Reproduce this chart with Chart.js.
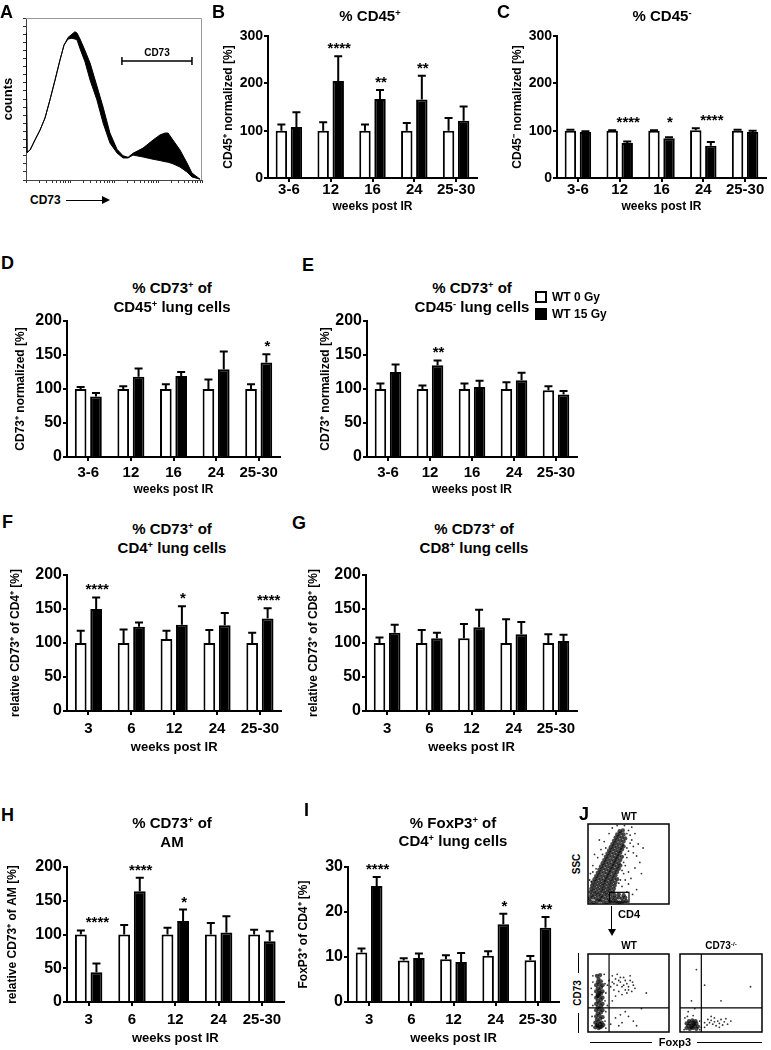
<!DOCTYPE html>
<html><head><meta charset="utf-8"><title>CD73 figure</title>
<script src="https://cdn.jsdelivr.net/npm/chart.js@4.4.1/dist/chart.umd.min.js"></script>
<style>
html,body{margin:0;padding:0;background:#fff;}
#fig{position:relative;width:771px;height:1050px;overflow:hidden;background:#fff;font-family:"Liberation Sans",Arial,Helvetica,sans-serif;font-weight:bold;color:#000;}
#fig canvas{position:absolute;}
.tx{position:absolute;white-space:nowrap;line-height:1;}
.c{transform:translate(-50%,-50%);}
.tl{transform:none;}
.rot{transform:translate(-50%,-50%) rotate(-90deg);}
sup{font-size:0.62em;line-height:0;vertical-align:0;position:relative;top:-0.55em;}
.lbox{position:absolute;width:8px;height:8px;border:2px solid #000;background:#fff;}
.hl{position:absolute;height:1px;background:#000;}
.vl{position:absolute;width:1px;background:#000;}
</style></head>
<body><div id="fig"></div>
<script>
const FONT = '"Liberation Sans", Arial, Helvetica, sans-serif';

// ---------- Panel A : histogram ----------
const histChannel = [0,0.6,2.3,5.1,8,10.8,13.6,16.5,19.3,21.6,23.9,26.1,27.8,29,30.7,33.5,36.4,40.3,43.8,47.7,51.7,55.1,58,60.8,66.5,72.2,76.1,79,80.7,83.5,87.5,91.5,94.3,98.9];
const histOpen   = [91,17,18.5,24.7,30.9,38.3,49.4,61.7,74,83.3,87,87.5,87,86.5,81,73,61.7,49.4,35.2,22.8,16.7,13.6,13.6,15.4,14.2,12.8,12,11.3,11,10,8,4.9,1.9,0.5];
const histFilled = [91,17,18.5,24.7,30.9,38.3,49.4,61.7,74,83.3,88,90,91.5,90.7,87,80,72.2,58,45,29,19,15,14,16.5,19.7,24.7,27.8,29,29,24.7,18.5,10.5,4.3,0.5];
const histLogTicks = [0,7.5,11.9,15,17.5,19.5,21.1,22.6,23.9,25,32.5,36.9,40,42.5,44.5,46.1,47.6,48.9,50,57.5,61.9,65,67.5,69.5,71.1,72.6,73.9,75,82.5,86.9,90,92.5,94.5,96.1,97.6,98.9,100];
const gateA = [54.5, 94.3, 73.5];

// ---------- Bar panels ----------
const weeksA = ['3-6','12','16','24','25-30'];
const weeksB = ['3','6','12','24','25-30'];

const bWT0 = [100,100,100,100,100], bWT0Err = [13,18,13,16,27];
const bWT15 = [108,205,167,166,121], bWT15Err = [31,52,19,50,30];
const bSig = ['','****','**','**',''];

const cWT0 = [100,100,100,101,100], cWT0Err = [2,1,1,4,2];
const cWT15 = [97,74,84,68,97], cWT15Err = [2,3,2,8,3];
const cSig = ['','****','*','****',''];

const dWT0 = [100,100,100,100,100], dWT0Err = [3,4,7,14,7];
const dWT15 = [89,118,119,129,139], dWT15Err = [5,12,6,26,12];
const dSig = ['','','','','*'];

const eWT0 = [100,100,100,100,98], eWT0Err = [8,5,8,10,6];
const eWT15 = [125,135,103,113,92], eWT15Err = [11,7,9,11,5];
const eSig = ['','**','','',''];

const fWT0 = [100,100,106,100,100], fWT0Err = [18,20,12,19,15];
const fWT15 = [150,124,127,126,136], fWT15Err = [17,6,27,18,15];
const fSig = ['****','','*','','****'];

const gWT0 = [100,100,107,100,100], gWT0Err = [8,19,21,35,13];
const gWT15 = [115,107,123,113,103], gWT15Err = [12,8,26,18,9];
const gSig = ['','','','',''];

const hWT0 = [100,100,100,100,100], hWT0Err = [6,14,10,17,7];
const hWT15 = [44,164,120,103,90], hWT15Err = [13,20,17,24,15];
const hSig = ['****','****','*','',''];

const iWT0 = [11,9.2,9.5,10.3,9.3], iWT0Err = [0.9,0.5,0.9,1.0,0.9];
const iWT15 = [25.8,9.8,8.9,17.3,16.5], iWT15Err = [2.0,1.0,2.0,2.3,2.4];
const iSig = ['****','','','*','**'];

// ---------- Panel J : dot plots (x %, y %) ----------
const jTopCore = [[3,3],[7,2],[11,3],[15,4],[19,3],[23,2],[27,3],[31,4],[35,3],[39,2],[43,3],[47,4],
 [2,7],[6,8],[10,7],[14,6],[18,8],[22,7],[26,6],[30,8],[34,7],[38,8],[42,7],[46,8],
 [4,11],[8,12],[12,11],[16,10],[20,12],[24,11],[28,12],[33,11],[38,12],[44,11],
 [3,15],[7,16],[11,15],[15,14],[19,16],[23,15],[27,16],[31,15],
 [4,19],[8,20],[12,19],[16,18],[20,20],[24,19],[28,20],[32,19],
 [5,23],[9,24],[13,23],[17,22],[21,24],[25,23],[29,24],[33,23],
 [6,27],[10,28],[14,27],[18,26],[22,28],[26,27],[30,28],[34,27],
 [8,31],[12,32],[16,31],[20,30],[24,32],[28,31],[32,32],[36,31],
 [10,35],[14,36],[18,35],[22,34],[26,36],[30,35],[34,36],
 [12,39],[16,40],[20,39],[24,38],[28,40],[32,39],[36,40],
 [14,43],[18,44],[22,43],[26,42],[30,44],[34,43],[38,44],
 [16,47],[20,48],[24,47],[28,46],[32,48],[36,47],[40,48],
 [18,51],[22,52],[26,51],[30,50],[34,52],[38,51],
 [20,55],[24,56],[28,55],[32,54],[36,56],[40,55],
 [22,59],[26,60],[30,59],[34,58],[38,60],[42,59],
 [24,63],[28,64],[32,63],[36,62],[40,64],
 [26,67],[30,68],[34,67],[38,66],[42,68],
 [28,71],[32,72],[36,71],[40,70],[44,72],
 [30,75],[34,76],[38,75],[42,74],
 [32,79],[36,80],[40,79],[44,78],
 [34,83],[38,84],[42,83],[46,82],
 [36,87],[40,88],[44,87],
 [39,91],[43,92]];
const jTopSpeck = [[50,92],[52,86],[54,80],[56,72],[50,66],[48,58],[46,48],[44,38],[40,30],[42,22],[48,15],[55,12],[60,60],[58,45],[53,32],[50,25],[62,75],[30,95],[26,88],[20,78],[16,68],[12,58],[6,48],[3,38],[2,30],[58,88],[64,52],[66,38],[60,18],[8,62],[14,80],[68,70],[45,98],[36,98],[54,96],[48,70],[46,62],[44,52],[42,42],[38,26],[10,44],[6,40],[4,28],[22,70],[18,62],[48,88],[52,76],[56,64],[50,40],[46,30]];
const jWtCore = [[9,6],[13,5],[17,7],[11,9],[15,10],[19,9],[9,12],[13,13],[17,12],[11,16],[15,17],[10,20],[14,21],[18,19],[12,24],[16,25],[10,28],[14,29],[18,28],[12,32],[16,33],[10,36],[14,37],[18,36],[12,40],[16,41],[10,44],[14,45],[18,44],[12,48],[16,49],[10,52],[14,53],[18,52],[12,56],[16,57],[10,60],[14,61],[18,60],[12,64],[16,65],[13,68],[11,72],[15,73],[12,46],[14,50],[12,8],[15,6]];
const jWtSpeck = [[28,58],[30,64],[32,54],[34,68],[36,60],[38,52],[40,64],[42,58],[44,70],[46,54],[48,62],[50,58],[52,66],[54,52],[56,60],[30,72],[36,74],[42,48],[48,50],[34,46],[40,70],[46,66],[52,72],[58,56],[32,62],[38,66],[44,60],[50,54],[26,66],[55,64],
 [34,18],[42,12],[50,20],[38,8],[56,14],[46,26],[60,8],[66,30],[72,50],[30,40],[28,10],[40,22],
 [6,72],[20,74],[6,64],[21,62],[22,50],[5,48],[21,40],[6,34],[22,26],[5,20],[21,14],[5,8],[22,5],[24,60],[4,56],[24,34]];
const jKoCore = [[8,5],[12,4],[16,5],[20,4],[10,8],[14,8],[18,8],[22,7],[8,11],[12,11],[16,12],[20,11],[11,14],[15,15],[19,14],[14,6],[17,10]];
const jKoSpeck = [[6,18],[24,14],[9,20],[16,21],[26,6],[10,26],[18,30],[5,3],[24,3],[30,12],[33,9],[36,12],[38,15],[40,10],[42,13],[44,8],[46,14],[48,11],[50,16],[52,9],[54,13],[56,17],[34,16],[42,18],[58,10],[30,6],[48,6],[14,40],[30,60],[86,58],[50,40],[20,80],[38,20],[62,14]];
const jQuad = [26, 31];
const jGate = [26.5, 50.6, 2.4, 14.6];

// ---------- helpers ----------
const fig = document.getElementById('fig');
function makeCanvas(x, y, w, h){
  const c = document.createElement('canvas');
  c.width = w; c.height = h;
  c.style.left = x + 'px'; c.style.top = y + 'px';
  c.style.width = w + 'px'; c.style.height = h + 'px';
  fig.appendChild(c); return c;
}
function put(html, x, y, size, cls){
  const d = document.createElement('div');
  d.className = 'tx ' + (cls === undefined ? 'c' : cls);
  d.innerHTML = html;
  d.style.left = x + 'px'; d.style.top = y + 'px'; d.style.fontSize = size + 'px';
  fig.appendChild(d); return d;
}
function line(cls, x, y, len){
  const d = document.createElement('div'); d.className = cls;
  d.style.left = x + 'px'; d.style.top = y + 'px';
  if (cls === 'hl') d.style.width = len + 'px'; else d.style.height = len + 'px';
  fig.appendChild(d); return d;
}

const errPlugin = {
  id: 'errbars',
  afterDatasetsDraw(chart){
    const ctx = chart.ctx, ys = chart.scales.y;
    const dsets = chart.data.datasets;
    dsets.forEach((ds, di) => {
      const meta = chart.getDatasetMeta(di);
      meta.data.forEach((el, i) => {
        const v = ds.data[i], e = ds.err[i];
        const y0 = ys.getPixelForValue(v), y1 = ys.getPixelForValue(v + e);
        ctx.save();
        ctx.strokeStyle = '#000'; ctx.lineWidth = 2;
        ctx.beginPath();
        ctx.moveTo(el.x, y0); ctx.lineTo(el.x, y1);
        ctx.moveTo(el.x - 4, y1); ctx.lineTo(el.x + 4, y1);
        ctx.stroke();
        if (ds.sig && ds.sig[i]) {
          let topY = y1;
          dsets.forEach(o => { topY = Math.min(topY, ys.getPixelForValue(o.data[i] + o.err[i])); });
          ctx.fillStyle = '#000';
          ctx.font = 'bold 15px ' + FONT;
          ctx.textAlign = 'center'; ctx.textBaseline = 'alphabetic';
          ctx.fillText(ds.sig[i], el.x + 1, topY - 3);
        }
        ctx.restore();
      });
    });
  }
};

function barPanel(p){
  const yl = 12 * 1.2;
  const xtSize = p.xtSize || 12, xlh = xtSize * 1.2;
  const left = Math.round(p.ytx - yl / 2 - 1);
  const top = p.T - 10;
  const padR = 4;
  const width = p.R + padR - left;
  const bottom = Math.round(p.xt + xlh / 2 + 1);
  const height = bottom - top;
  const cv = makeCanvas(left, top, width, height);
  const yw = p.L - left, xh = bottom - p.B;
  const xFont = 15;
  const tickPad = p.xl - p.B - 4 - xFont / 2;
  new Chart(cv, {
    type: 'bar',
    data: {
      labels: p.cats,
      datasets: [
        {label: 'WT 0 Gy', data: p.w0, err: p.w0e, backgroundColor: '#fff', borderColor: '#000', borderWidth: 2,
         categoryPercentage: 0.72, barPercentage: 0.76},
        {label: 'WT 15 Gy', data: p.w15, err: p.w15e, sig: p.sig, backgroundColor: '#000', borderColor: '#000', borderWidth: 2,
         categoryPercentage: 0.72, barPercentage: 0.76}
      ]
    },
    options: {
      responsive: false, animation: false, devicePixelRatio: 1,
      layout: {padding: {top: 10, right: padR, left: 0, bottom: 0}},
      plugins: {legend: {display: false}, tooltip: {enabled: false}, title: {display: false}},
      scales: {
        x: {
          offset: true,
          grid: {offset: false, drawOnChartArea: false, drawTicks: true, tickLength: 4, color: '#000', lineWidth: 2},
          border: {color: '#000', width: 2},
          ticks: {color: '#000', font: {family: FONT, weight: 'bold', size: xFont, lineHeight: 1}, padding: tickPad, maxRotation: 0, autoSkip: false},
          title: {display: true, text: 'weeks post IR', color: '#000', font: {family: FONT, weight: 'bold', size: xtSize, lineHeight: 1.2}, padding: {top: 0, bottom: 1}},
          afterFit: s => { s.height = xh; }
        },
        y: {
          min: 0, max: p.yMax,
          ticks: {stepSize: p.step, color: '#000', font: {family: FONT, weight: 'bold', size: p.yFont, lineHeight: 1}, padding: 1},
          grid: {drawOnChartArea: false, drawTicks: true, tickLength: 4, color: '#000', lineWidth: 2},
          border: {color: '#000', width: 2},
          title: {display: true, text: p.yTitle, color: '#000', font: {family: FONT, weight: 'bold', size: 12, lineHeight: 1.2}, padding: {top: 1, bottom: 0}},
          afterFit: s => { s.width = yw; }
        }
      }
    },
    plugins: [errPlugin]
  });
}

// ---------- Panel A ----------
const histPlugin = {
  id: 'histdeco',
  afterDraw(chart){
    const {ctx, chartArea: a, scales: {x, y}} = chart;
    ctx.save();
    ctx.strokeStyle = '#9a9a9a'; ctx.lineWidth = 1;
    ctx.beginPath(); ctx.moveTo(a.left, a.top + 0.5); ctx.lineTo(a.right - 0.5, a.top + 0.5); ctx.lineTo(a.right - 0.5, a.bottom); ctx.stroke();
    const gx0 = x.getPixelForValue(gateA[0]), gx1 = x.getPixelForValue(gateA[1]), gy = y.getPixelForValue(gateA[2]);
    ctx.strokeStyle = '#000'; ctx.lineWidth = 1.5;
    ctx.beginPath();
    ctx.moveTo(gx0, gy); ctx.lineTo(gx1, gy);
    ctx.moveTo(gx0, gy - 4); ctx.lineTo(gx0, gy + 4);
    ctx.moveTo(gx1, gy - 4); ctx.lineTo(gx1, gy + 4);
    ctx.stroke();
    ctx.fillStyle = '#000'; ctx.font = 'bold 10px ' + FONT; ctx.textAlign = 'center'; ctx.textBaseline = 'middle';
    ctx.fillText('CD73', (gx0 + gx1) / 2, gy - 7.5);
    ctx.restore();
  }
};
(function(){
  const cv = makeCanvas(0, 14, 204, 170);
  new Chart(cv, {
    type: 'line',
    data: {datasets: [
      {data: histChannel.map((c, i) => ({x: c, y: histOpen[i]})), borderColor: '#000', borderWidth: 1, pointRadius: 0, fill: false, tension: 0},
      {data: histChannel.map((c, i) => ({x: c, y: histFilled[i]})), borderColor: '#000', borderWidth: 1, pointRadius: 0, backgroundColor: '#000', fill: '-1', tension: 0}
    ]},
    options: {
      responsive: false, animation: false, devicePixelRatio: 1,
      layout: {padding: {top: 4, right: 2, left: 0, bottom: 0}},
      plugins: {legend: {display: false}, tooltip: {enabled: false}},
      scales: {
        x: {type: 'linear', min: 0, max: 100,
            ticks: {display: false},
            afterBuildTicks: s => { s.ticks = histLogTicks.map(v => ({value: v})); },
            grid: {drawOnChartArea: false, drawTicks: true, tickLength: 3, color: '#333', lineWidth: 1},
            border: {color: '#444', width: 1},
            afterFit: s => { s.height = 4; }},
        y: {type: 'linear', min: 0, max: 100,
            ticks: {display: false, stepSize: 5},
            grid: {drawOnChartArea: false, drawTicks: true, tickLength: 3, color: '#333', lineWidth: 1},
            border: {color: '#444', width: 1},
            title: {display: true, text: 'counts', color: '#000', font: {family: FONT, weight: 'bold', size: 13, lineHeight: 1.2}, padding: {top: 1, bottom: 0}},
            afterFit: s => { s.width = 26; }}
      }
    },
    plugins: [histPlugin]
  });
})();

// ---------- Bar panels ----------
barPanel({L:268,R:477,T:36,B:178,xl:190,xt:207,ytx:228,yMax:300,step:100,yFont:14,cats:weeksA,
  w0:bWT0,w0e:bWT0Err,w15:bWT15,w15e:bWT15Err,sig:bSig,yTitle:'CD45\u207A normalized [%]'});
barPanel({L:557,R:766,T:36,B:178,xl:190,xt:207,ytx:517,yMax:300,step:100,yFont:14,cats:weeksA,
  w0:cWT0,w0e:cWT0Err,w15:cWT15,w15e:cWT15Err,sig:cSig,yTitle:'CD45\u207B normalized [%]'});
barPanel({L:67,R:280,T:321,B:457,xl:473,xt:490,ytx:20,yMax:200,step:50,yFont:16,cats:weeksA,
  w0:dWT0,w0e:dWT0Err,w15:dWT15,w15e:dWT15Err,sig:dSig,yTitle:'CD73\u207A normalized [%]'});
barPanel({L:367,R:577,T:321,B:457,xl:473,xt:490,ytx:325,yMax:200,step:50,yFont:16,cats:weeksA,
  w0:eWT0,w0e:eWT0Err,w15:eWT15,w15e:eWT15Err,sig:eSig,yTitle:'CD73\u207A normalized [%]'});
barPanel({L:67,R:282,T:575,B:711,xl:729,xt:747,ytx:15,yMax:200,step:50,yFont:16,xtSize:13,cats:weeksB,
  w0:fWT0,w0e:fWT0Err,w15:fWT15,w15e:fWT15Err,sig:fSig,yTitle:'relative CD73\u207A of CD4\u207A [%]'});
barPanel({L:366,R:578,T:575,B:711,xl:729,xt:747,ytx:313,yMax:200,step:50,yFont:16,xtSize:13,cats:weeksB,
  w0:gWT0,w0e:gWT0Err,w15:gWT15,w15e:gWT15Err,sig:gSig,yTitle:'relative CD73\u207A of CD8\u207A [%]'});
barPanel({L:67,R:284,T:867,B:1002,xl:1020,xt:1038,ytx:12,yMax:200,step:50,yFont:16,xtSize:13,cats:weeksB,
  w0:hWT0,w0e:hWT0Err,w15:hWT15,w15e:hWT15Err,sig:hSig,yTitle:'relative CD73\u207A of AM [%]'});
barPanel({L:348,R:560,T:867,B:1002,xl:1020,xt:1038,ytx:303,yMax:30,step:10,yFont:16,xtSize:13,cats:weeksB,
  w0:iWT0,w0e:iWT0Err,w15:iWT15,w15e:iWT15Err,sig:iSig,yTitle:'FoxP3\u207A of CD4\u207A [%]'});

// ---------- Panel J dot plots ----------
const framePlugin = {
  id: 'frame',
  afterDraw(chart, args, opts){
    const {ctx, chartArea: a, scales: {x, y}} = chart;
    ctx.save();
    ctx.strokeStyle = '#000'; ctx.lineWidth = 1.5;
    ctx.strokeRect(a.left, a.top, a.right - a.left, a.bottom - a.top);
    if (opts.quad) {
      ctx.lineWidth = 1.2;
      const qx = x.getPixelForValue(opts.quad[0]), qy = y.getPixelForValue(opts.quad[1]);
      ctx.beginPath(); ctx.moveTo(qx, a.top); ctx.lineTo(qx, a.bottom); ctx.moveTo(a.left, qy); ctx.lineTo(a.right, qy); ctx.stroke();
    }
    if (opts.gate) {
      ctx.lineWidth = 1.2;
      const g = opts.gate;
      const x0 = x.getPixelForValue(g[0]), x1 = x.getPixelForValue(g[1]), y0 = y.getPixelForValue(g[2]), y1 = y.getPixelForValue(g[3]);
      ctx.strokeRect(x0, y1, x1 - x0, y0 - y1);
    }
    ctx.restore();
  }
};
function dotPlot(bx, by, bw, bh, core, speck, opts){
  const cv = makeCanvas(bx - 3, by - 3, bw + 6, bh + 6);
  new Chart(cv, {
    type: 'scatter',
    data: {datasets: [
      {data: core.map(p => ({x: p[0], y: p[1]})), pointRadius: 2.1, pointBorderWidth: 0, backgroundColor: 'rgba(0,0,0,0.72)'},
      {data: speck.map(p => ({x: p[0], y: p[1]})), pointRadius: 0.9, pointBorderWidth: 0, backgroundColor: 'rgba(0,0,0,0.8)'}
    ]},
    options: {
      responsive: false, animation: false, devicePixelRatio: 1,
      layout: {padding: 3},
      plugins: {legend: {display: false}, tooltip: {enabled: false}, frame: opts},
      scales: {x: {display: false, min: 0, max: 100}, y: {display: false, min: 0, max: 100}}
    },
    plugins: [framePlugin]
  });
}
dotPlot(587, 823, 83, 82, jTopCore, jTopSpeck, {gate: jGate});
dotPlot(587, 953, 83, 80, jWtCore, jWtSpeck, {quad: jQuad});
dotPlot(679, 953, 84, 80, jKoCore, jKoSpeck, {quad: jQuad});

// ---------- Texts ----------
const letters = [['A',0,3],['B',212,3],['C',497,3],['D',1,254],['E',302,256],['F',2,513],['G',292,514],['H',1,806],['I',304,801],['J',579,805]];
letters.forEach(l => put(l[0], l[1], l[2], 18, 'tl'));

put('% CD45<sup>+</sup>', 370, 15, 15);
put('% CD45<sup>-</sup>', 662, 15, 15);
put('% CD73<sup>+</sup> of', 172, 287, 15);
put('CD45<sup>+</sup> lung cells', 172, 306, 15);
put('% CD73<sup>+</sup> of', 472, 287, 15);
put('CD45<sup>-</sup> lung cells', 472, 306, 15);
put('% CD73<sup>+</sup> of', 172, 528, 15);
put('CD4<sup>+</sup> lung cells', 172, 547, 15);
put('% CD73<sup>+</sup> of', 474, 528, 15);
put('CD8<sup>+</sup> lung cells', 474, 547, 15);
put('% CD73<sup>+</sup> of', 172, 822, 15);
put('AM', 172, 841, 15);
put('% FoxP3<sup>+</sup> of', 453, 822, 15);
put('CD4<sup>+</sup> lung cells', 453, 840, 15);

// legend
(function(){
  const b1 = document.createElement('div'); b1.className = 'lbox'; b1.style.left = '535px'; b1.style.top = '291px'; fig.appendChild(b1);
  const b2 = document.createElement('div'); b2.className = 'lbox'; b2.style.left = '535px'; b2.style.top = '308px'; b2.style.background = '#000'; fig.appendChild(b2);
  put('WT 0 Gy', 552, 291, 12, 'tl');
  put('WT 15 Gy', 552, 308, 12, 'tl');
})();

// Panel A axis label
put('CD73', 30, 194, 12, 'tl');
line('hl', 66, 200, 38);
(function(){
  const h = document.createElement('div');
  h.style.cssText = 'position:absolute;left:102px;top:196px;width:0;height:0;border-top:4px solid transparent;border-bottom:4px solid transparent;border-left:8px solid #000;';
  fig.appendChild(h);
})();

// Panel J labels
put('WT', 629, 817, 10);
put('SSC', 577, 864, 10, 'rot');
put('CD4', 629, 914, 11);
line('vl', 611, 906, 24);
(function(){
  const h = document.createElement('div');
  h.style.cssText = 'position:absolute;left:607.5px;top:929px;width:0;height:0;border-left:4px solid transparent;border-right:4px solid transparent;border-top:7px solid #000;';
  fig.appendChild(h);
})();
put('WT', 629, 946, 10);
put('CD73<sup>-/-</sup>', 721, 946, 10);
put('Foxp3', 675, 1042, 11);
line('hl', 590, 1042, 62);
line('hl', 697, 1042, 65);
put('CD73', 578, 993, 10, 'rot');
line('vl', 578, 953, 20);
line('vl', 578, 1013, 20);
</script></body></html>
